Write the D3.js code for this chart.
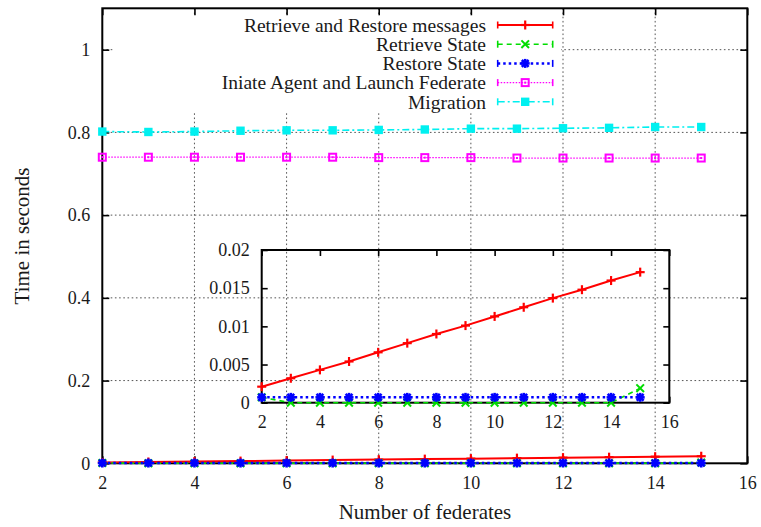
<!DOCTYPE html>
<html>
<head>
<meta charset="utf-8">
<script src="https://cdn.jsdelivr.net/npm/d3@7"></script>
<style>
  html, body { margin: 0; padding: 0; background: #fff; }
  svg { display: block; }
  svg text { font-family: "Liberation Serif", "Times New Roman", serif; }
</style>
</head>
<body>
<svg id="chart" width="761" height="527"></svg>
<script>
// Number of federates taking part in each run
const federates = [2, 3, 4, 5, 6, 7, 8, 9, 10, 11, 12, 13, 14, 15];

// Measured times (seconds)
const retrieveRestoreMsgs = [0.0021, 0.0032, 0.0043, 0.0054, 0.0066, 0.0078, 0.0090, 0.0101, 0.0113, 0.0125, 0.0137, 0.0148, 0.0160, 0.0171];
const retrieveState       = [0.0007, 0, 0, 0, 0, 0, 0, 0, 0, 0, 0, 0, 0, 0.0019];
const restoreState        = [0.0007, 0.0007, 0.0007, 0.0007, 0.0007, 0.0007, 0.0007, 0.0007, 0.0007, 0.0007, 0.0007, 0.0007, 0.0007, 0.0007];
const initiateAgentLaunch = [0.740, 0.740, 0.740, 0.740, 0.740, 0.740, 0.739, 0.739, 0.739, 0.738, 0.738, 0.738, 0.738, 0.738];
const migration           = [0.802, 0.801, 0.802, 0.804, 0.805, 0.805, 0.806, 0.807, 0.809, 0.809, 0.810, 0.811, 0.813, 0.813];

const seriesNames = [
  "Retrieve and Restore messages",
  "Retrieve State",
  "Restore State",
  "Iniate Agent and Launch Federate",
  "Migration"
];

// Tick values
const xTicks = [2, 4, 6, 8, 10, 12, 14, 16];
const yTicksMain = [0, 0.2, 0.4, 0.6, 0.8, 1];
const yTicksInset = [0, 0.005, 0.01, 0.015, 0.02];

const xTitle = "Number of federates";
const yTitle = "Time in seconds";

// Drawing styles for each series
const styles = [
  { values: retrieveRestoreMsgs, color: "#ff0000", dash: null,          width: 2,   marker: "plus" },
  { values: retrieveState,       color: "#00dd00", dash: "5,4",         width: 1.6, marker: "cross" },
  { values: restoreState,        color: "#0000ff", dash: "2.5,3",       width: 2.5, marker: "star" },
  { values: initiateAgentLaunch, color: "#ff00ff", dash: "1.5,1.5",     width: 1.3, marker: "boxOpen" },
  { values: migration,           color: "#00f0f0", dash: "7,3,2,3",     width: 1.6, marker: "boxFilled" }
];

const serif = '"Liberation Serif", "Times New Roman", serif';
const svg = d3.select("#chart");
const textColor = "#1a1a1a";

// ---- main plot scales ----
const x = d3.scaleLinear().domain([2, 16]).range([102.3, 747.3]);
const y = d3.scaleLinear().domain([0, 1.1]).range([463.3, 8.3]);

// ---- inset scales ----
const xi = d3.scaleLinear().domain([2, 16]).range([261.7, 669.3]);
const yi = d3.scaleLinear().domain([0, 0.02]).range([402.7, 250]);

function drawMarker(g, type, cx, cy, color) {
  const s = 4.5;
  if (type === "plus" || type === "star") {
    const w = type === "star" ? 2.6 : 2.2;
    g.append("line").attr("x1", cx - s).attr("x2", cx + s).attr("y1", cy).attr("y2", cy)
      .attr("stroke", color).attr("stroke-width", w);
    g.append("line").attr("x1", cx).attr("x2", cx).attr("y1", cy - s).attr("y2", cy + s)
      .attr("stroke", color).attr("stroke-width", w);
  }
  if (type === "cross" || type === "star") {
    const d = type === "star" ? 3.4 : 3.8;
    const w = type === "star" ? 2.6 : 2;
    g.append("line").attr("x1", cx - d).attr("x2", cx + d).attr("y1", cy - d).attr("y2", cy + d)
      .attr("stroke", color).attr("stroke-width", w);
    g.append("line").attr("x1", cx - d).attr("x2", cx + d).attr("y1", cy + d).attr("y2", cy - d)
      .attr("stroke", color).attr("stroke-width", w);
  }
  if (type === "boxOpen") {
    g.append("rect").attr("x", cx - 3.5).attr("y", cy - 3.5).attr("width", 7).attr("height", 7)
      .attr("fill", "none").attr("stroke", color).attr("stroke-width", 2);
    g.append("rect").attr("x", cx - 1).attr("y", cy - 1).attr("width", 2).attr("height", 2)
      .attr("fill", color);
  }
  if (type === "boxFilled") {
    g.append("rect").attr("x", cx - 4.2).attr("y", cy - 4.2).attr("width", 8.4).attr("height", 8.4)
      .attr("fill", color);
  }
}

function drawSeries(g, xs, ys, st) {
  const line = d3.line().x((d, i) => xs(federates[i])).y(d => ys(d));
  g.append("path").datum(st.values)
    .attr("d", line)
    .attr("fill", "none")
    .attr("stroke", st.color)
    .attr("stroke-width", st.width)
    .attr("stroke-dasharray", st.dash);
  st.values.forEach((v, i) => drawMarker(g, st.marker, xs(federates[i]), ys(v), st.color));
}

// Inward ticks on all four sides, labels on left and bottom
function drawFrame(g, xs, ys, yTicks, tickLen, xPad, yPad, fontSize, fmt) {
  const [x0, x1] = xs.range();
  const [y0, y1] = ys.range();

  const bottom = d3.axisBottom(xs).tickValues(xTicks).tickSizeInner(-tickLen).tickSizeOuter(0)
    .tickPadding(xPad).tickFormat(d => String(d));
  const top = d3.axisTop(xs).tickValues(xTicks).tickSizeInner(-tickLen).tickSizeOuter(0)
    .tickFormat("");
  const left = d3.axisLeft(ys).tickValues(yTicks).tickSizeInner(-tickLen).tickSizeOuter(0)
    .tickPadding(yPad).tickFormat(fmt);
  const right = d3.axisRight(ys).tickValues(yTicks).tickSizeInner(-tickLen).tickSizeOuter(0)
    .tickFormat("");

  const parts = [
    [bottom, `translate(0,${y0})`],
    [top, `translate(0,${y1})`],
    [left, `translate(${x0},0)`],
    [right, `translate(${x1},0)`]
  ];
  parts.forEach(([ax, tr]) => {
    const a = g.append("g").attr("transform", tr).call(ax)
      .attr("font-family", serif).attr("font-size", fontSize);
    a.select(".domain").remove();
    a.selectAll(".tick line").attr("stroke", "#000").attr("stroke-width", 1.6);
    a.selectAll(".tick text").attr("fill", textColor);
  });

  g.append("rect")
    .attr("x", x0).attr("y", y1)
    .attr("width", x1 - x0).attr("height", y0 - y1)
    .attr("fill", "none").attr("stroke", "#000").attr("stroke-width", 2);
}

// ---- main grid ----
const grid = svg.append("g");
const gridStyle = sel => sel.attr("stroke", "#555").attr("stroke-width", 1).attr("stroke-dasharray", "1.6,2.6");
xTicks.filter(v => v > 2 && v < 16).forEach(v => {
  grid.append("line").attr("x1", x(v)).attr("x2", x(v)).attr("y1", y(1.1)).attr("y2", y(0)).call(gridStyle);
});
yTicksMain.filter(v => v > 0).forEach(v => {
  grid.append("line").attr("x1", x(2)).attr("x2", x(16)).attr("y1", y(v)).attr("y2", y(v)).call(gridStyle);
});

// ---- legend background (opaque key box) ----
svg.append("rect").attr("x", 113).attr("y", 14).attr("width", 448).attr("height", 99).attr("fill", "#fff");

// ---- main frame, ticks, labels ----
drawFrame(svg.append("g"), x, y, yTicksMain, 7, 13, 12, 18, d => String(d));

// ---- main data ----
const mainData = svg.append("g");
styles.forEach(st => drawSeries(mainData, x, y, st));

// ---- axis titles ----
svg.append("text")
  .attr("x", 425).attr("y", 519)
  .attr("text-anchor", "middle")
  .attr("fill", textColor)
  .attr("font-family", serif)
  .attr("font-size", 21)
  .text(xTitle);
svg.append("text")
  .attr("transform", "translate(29,236) rotate(-90)")
  .attr("text-anchor", "middle")
  .attr("fill", textColor)
  .attr("font-family", serif)
  .attr("font-size", 21)
  .text(yTitle);

// ---- legend ----
const legend = svg.append("g");
styles.forEach((st, i) => {
  const cy = 25 + i * 19.2;
  legend.append("text")
    .attr("x", 486).attr("y", cy)
    .attr("dy", "0.35em")
    .attr("text-anchor", "end")
    .attr("fill", textColor)
    .attr("font-family", serif)
    .attr("font-size", 19.5)
    .text(seriesNames[i]);
  const lx0 = 497.7, lx1 = 552.7;
  legend.append("line")
    .attr("x1", lx0).attr("x2", lx1).attr("y1", cy).attr("y2", cy)
    .attr("stroke", st.color).attr("stroke-width", st.width)
    .attr("stroke-dasharray", st.dash);
  [lx0, lx1].forEach(cx => {
    legend.append("line")
      .attr("x1", cx).attr("x2", cx).attr("y1", cy - 3.5).attr("y2", cy + 3.5)
      .attr("stroke", st.color).attr("stroke-width", 1.6);
  });
  drawMarker(legend, st.marker, (lx0 + lx1) / 2, cy, st.color);
});

// ---- inset: zoom on the smallest times ----
const inset = svg.append("g");
drawFrame(inset, xi, yi, yTicksInset, 6, 13, 12, 18, d => String(d));
const insetData = inset.append("g");
styles.slice(0, 3).forEach(st => drawSeries(insetData, xi, yi, st));
</script>
</body>
</html>
